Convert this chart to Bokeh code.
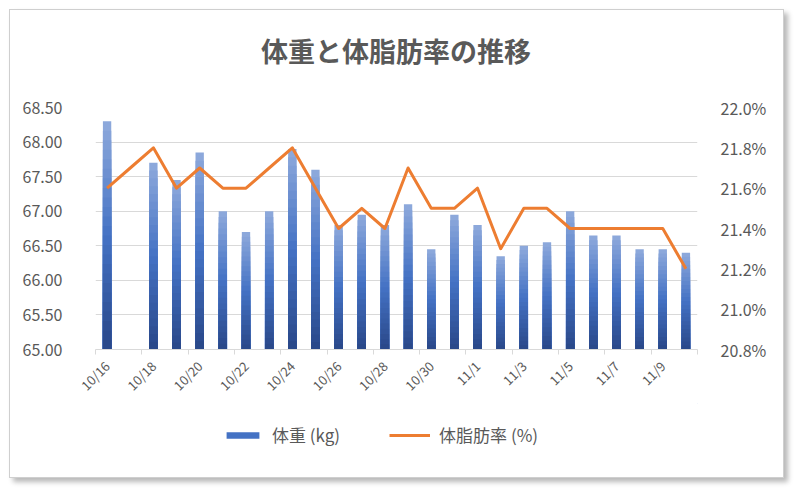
import math
from bokeh.plotting import figure
from bokeh.models import (ColumnDataSource, Range1d, LinearAxis, FixedTicker,
                          CustomJSTickFormatter, PrintfTickFormatter, Legend,
                          LegendItem, Column, Label)
from bokeh.embed import file_html
from bokeh.resources import INLINE

# ---------------- data ----------------
categories = ["10/16", "10/17", "10/18", "10/19", "10/20", "10/21", "10/22", "10/23",
              "10/24", "10/25", "10/26", "10/27", "10/28", "10/29", "10/30", "10/31",
              "11/1", "11/2", "11/3", "11/4", "11/5", "11/6", "11/7", "11/8", "11/9", "11/10"]
weight_kg = [68.3, None, 67.7, 67.45, 67.85, 67.0, 66.7, 67.0,
             67.9, 67.6, 66.8, 66.95, 66.8, 67.1, 66.45, 66.95,
             66.8, 66.35, 66.5, 66.55, 67.0, 66.65, 66.65, 66.45, 66.45, 66.4]
body_fat_pct = [21.6, 21.7, 21.8, 21.6, 21.7, 21.6, 21.6, 21.7,
                21.8, 21.6, 21.4, 21.5, 21.4, 21.7, 21.5, 21.5,
                21.6, 21.3, 21.5, 21.5, 21.4, 21.4, 21.4, 21.4, 21.4, 21.2]
left_ticks = [65.0, 65.5, 66.0, 66.5, 67.0, 67.5, 68.0, 68.5]
right_ticks = [20.8, 21.0, 21.2, 21.4, 21.6, 21.8, 22.0]
title_text = "体重と体脂肪率の推移"
weight_label = "体重 (kg)"
fat_label = "体脂肪率 (%)"

FONT = "Noto Sans CJK JP"
GRAY = "#595959"
GRID = "#d9d9d9"
ORANGE = "#ed7d31"

xs = list(range(len(categories)))

# ---------------- gradient bars (stacked overlays) ----------------
stops = [(0.0, (0x29, 0x47, 0x88)), (0.5, (0x44, 0x72, 0xc4)), (1.0, (0x8f, 0xaa, 0xdc))]


def ramp(t):
    for (t0, c0), (t1, c1) in zip(stops[:-1], stops[1:]):
        if t0 <= t <= t1:
            f = (t - t0) / (t1 - t0)
            return "#%02x%02x%02x" % tuple(int(round(a + (b - a) * f)) for a, b in zip(c0, c1))
    return "#%02x%02x%02x" % stops[-1][1]


N = 24
base = left_ticks[0]
band = dict(x=[], bottom=[], top=[], color=[])
for k in range(N, 0, -1):
    for i, w in zip(xs, weight_kg):
        if w is None:
            continue
        band["x"].append(i)
        band["bottom"].append(base)
        band["top"].append(base + (w - base) * k / N)
        band["color"].append(ramp((k - 0.5) / N))
band_src = ColumnDataSource(band)

# ---------------- layout sizes ----------------
W = 773
H_TOP = 80
H_LEG = 74
H_MAIN = 467 - H_TOP - H_LEG
ML, MR = 85, 86


def strip(h):
    f = figure(width=W, height=h, x_range=Range1d(0, W), y_range=Range1d(h, 0),
               output_backend="svg", toolbar_location=None,
               x_axis_location=None, y_axis_location=None,
               min_border_left=0, min_border_right=0, min_border_top=0, min_border_bottom=0)
    f.grid.visible = False
    f.outline_line_color = None
    f.background_fill_color = "white"
    f.border_fill_color = "white"
    return f


# ---------------- title strip ----------------
tf = strip(H_TOP)
tf.add_layout(Label(x=(ML + W - MR) / 2, y=40, text=title_text, text_align="center",
                    text_baseline="middle", text_font=FONT, text_font_size="27px",
                    text_font_style="bold", text_color=GRAY))

# ---------------- main figure ----------------
p = figure(width=W, height=H_MAIN,
           x_range=Range1d(-0.5, len(categories) - 0.5),
           y_range=Range1d(left_ticks[0], left_ticks[-1]),
           output_backend="svg", toolbar_location=None,
           min_border_left=ML, min_border_right=MR,
           min_border_top=97 - H_TOP, min_border_bottom=52)
p.extra_y_ranges = {"pct": Range1d(right_ticks[0], right_ticks[-1])}
p.background_fill_color = "white"
p.border_fill_color = "white"
p.outline_line_color = None

# left axis
ya = p.yaxis[0]
ya.ticker = FixedTicker(ticks=left_ticks)
ya.formatter = PrintfTickFormatter(format="%.2f")
ya.axis_line_color = None
ya.major_tick_line_color = None
ya.minor_tick_line_color = None
ya.major_label_standoff = 27
ya.major_label_text_font = FONT
ya.major_label_text_font_size = "16px"
ya.major_label_text_color = GRAY

# right axis
ra = LinearAxis(y_range_name="pct", ticker=FixedTicker(ticks=right_ticks),
                formatter=PrintfTickFormatter(format="%.1f%%"))
ra.axis_line_color = None
ra.major_tick_line_color = None
ra.minor_tick_line_color = None
ra.major_label_standoff = 17
ra.major_label_text_font = FONT
ra.major_label_text_font_size = "16px"
ra.major_label_text_color = GRAY
p.add_layout(ra, "right")

# x axis
xa = p.xaxis[0]
xa.ticker = FixedTicker(ticks=xs[::2],
                        minor_ticks=[i - 0.5 for i in xs[::2]] + [xs[-1] + 0.5])
xa.formatter = CustomJSTickFormatter(args=dict(labels=categories), code="""
    const i = Math.round(tick);
    return (i >= 0 && i < labels.length) ? labels[i] : '';
""")
xa.axis_line_color = GRID
xa.major_tick_out = 0
xa.major_tick_in = 0
xa.major_tick_line_color = None
xa.minor_tick_out = 5
xa.minor_tick_in = 0
xa.minor_tick_line_color = GRID
xa.major_label_orientation = math.pi / 4
xa.major_label_standoff = 9
xa.major_label_text_font = FONT
xa.major_label_text_font_size = "13px"
xa.major_label_text_color = GRAY

p.xgrid.visible = False
p.ygrid.grid_line_color = GRID
p.ygrid.grid_line_width = 1

# glyphs
p.vbar(x="x", bottom="bottom", top="top", width=0.36, fill_color="color",
       line_color=None, source=band_src)
p.line(xs, body_fat_pct, y_range_name="pct", line_color=ORANGE,
       line_width=3, line_join="round")

# ---------------- legend strip ----------------
lf = figure(width=W, height=H_LEG, x_range=Range1d(0, 1), y_range=Range1d(0, 1),
            output_backend="svg", toolbar_location=None,
            x_axis_location=None, y_axis_location=None,
            min_border_left=0, min_border_right=0, min_border_top=0, min_border_bottom=0)
lf.grid.visible = False
lf.outline_line_color = None
lf.background_fill_color = "white"
lf.border_fill_color = "white"
# swatch renderers sit outside the strip's visible range; they only feed the legend
swatch_bar = lf.vbar(x=[5], top=[6], bottom=[5], width=0.1, fill_color=ramp(0.5),
                     line_color=None)
swatch_line = lf.line(x=[5, 6], y=[5, 5], line_color=ORANGE, line_width=3)
legend = Legend(items=[LegendItem(label=weight_label, renderers=[swatch_bar]),
                       LegendItem(label=fat_label, renderers=[swatch_line])],
                orientation="horizontal", location=(127, 30),
                glyph_width=41, glyph_height=8, label_standoff=9, spacing=49,
                label_text_font=FONT, label_text_font_size="17px",
                label_text_color=GRAY, border_line_color=None,
                background_fill_alpha=0, margin=0, padding=4)
lf.add_layout(legend)

layout = Column(children=[tf, p, lf], spacing=0, styles={
    "margin-left": "9px", "margin-top": "9px",
    "border": "1px solid #cfcfcf",
    "box-shadow": "4px 4px 5px rgba(0,0,0,0.28)",
    "background": "white",
})

open("out.html", "w").write(file_html(layout, INLINE))
